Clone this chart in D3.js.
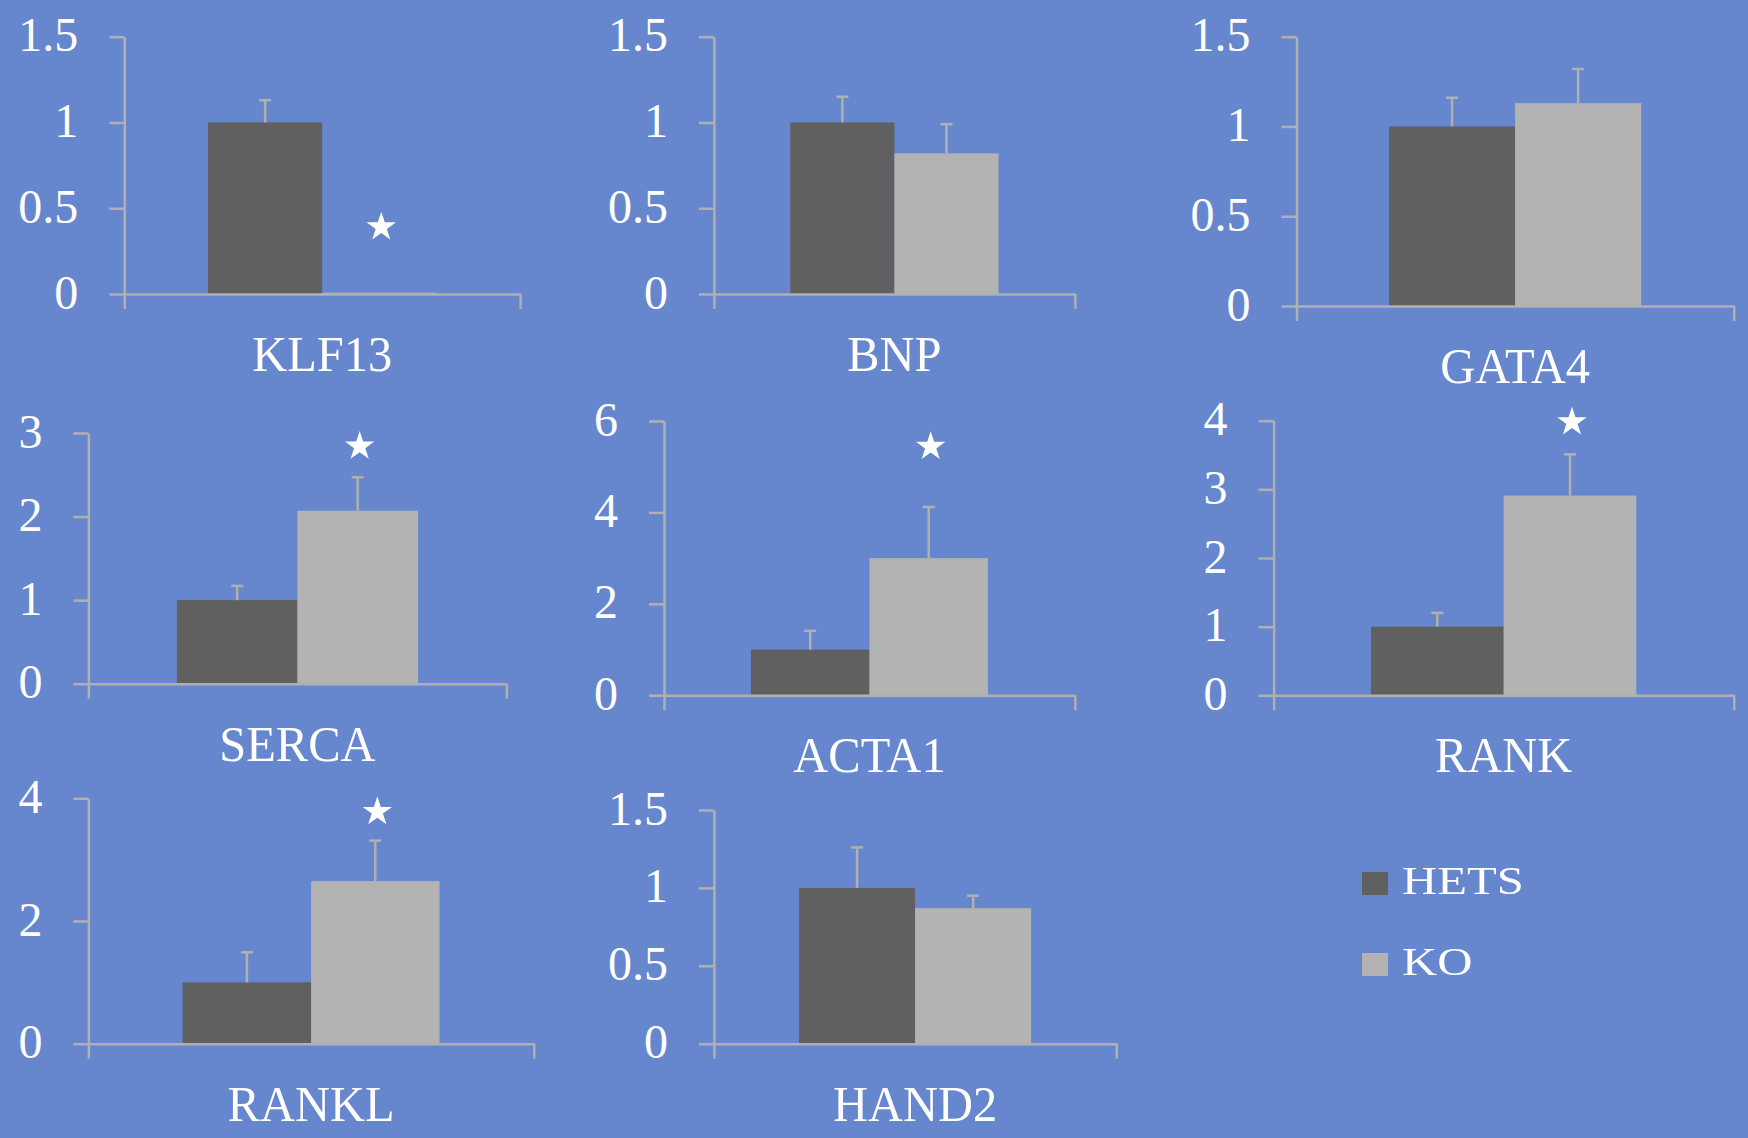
<!DOCTYPE html>
<html>
<head>
<meta charset="utf-8">
<script src="https://cdn.jsdelivr.net/npm/d3@7"></script>
<style>
  html, body { margin: 0; padding: 0; background: #6686cd; }
  svg { display: block; }
  text { font-family: "Liberation Serif", "Times New Roman", serif; fill: #ffffff; }
</style>
</head>
<body>
<svg id="chart" width="1748" height="1138"></svg>
<script>
// Relative expression, HETS vs KO, one small panel per gene
const genes = ["KLF13", "BNP", "GATA4", "SERCA", "ACTA1", "RANK", "RANKL", "HAND2"];
const groups = ["HETS", "KO"];
const hetsMean = [1, 1, 1, 1, 1, 1, 1, 1];
const koMean = [0.008, 0.82, 1.13, 2.07, 3.0, 2.91, 2.65, 0.87];
const hetsErr = [0.13, 0.15, 0.16, 0.17, 0.41, 0.20, 0.49, 0.26];
const koErr = [0, 0.17, 0.19, 0.40, 1.12, 0.60, 0.66, 0.08];
const significant = [true, false, false, true, true, true, true, false];
// height (in axis units) at which the significance star sits
const starLevel = [0.39, null, null, 2.84, 5.44, 3.98, 3.78, null];
const yTickValues = [
  [0, 0.5, 1, 1.5],
  [0, 0.5, 1, 1.5],
  [0, 0.5, 1, 1.5],
  [0, 1, 2, 3],
  [0, 2, 4, 6],
  [0, 1, 2, 3, 4],
  [0, 2, 4],
  [0, 0.5, 1, 1.5]
];

// Panel frames: plot left edge, right edge, zero baseline and top tick (px)
const frames = [
  { left: 124.3,  right: 520.1,  base: 294,    top: 36.7 },
  { left: 713.9,  right: 1074.9, base: 294,    top: 36.7 },
  { left: 1296.5, right: 1733.7, base: 306,    top: 36.7 },
  { left: 88.4,   right: 506.4,  base: 683.7,  top: 433 },
  { left: 664,    right: 1074.9, base: 695.3,  top: 421 },
  { left: 1273.6, right: 1733.7, base: 695.3,  top: 420.7 },
  { left: 88.4,   right: 533.8,  base: 1043.7, top: 798.3 },
  { left: 713.9,  right: 1116.3, base: 1043.7, top: 810 }
];

const colors = { HETS: "#606060", KO: "#b3b3b3" };
const axisColor = "#b0b0b0";
const lineWidth = 2.5;

const svg = d3.select("#chart");

genes.forEach((gene, i) => {
  const f = frames[i];
  const ticks = yTickValues[i];
  const g = svg.append("g");

  const y = d3.scaleLinear().domain([0, d3.max(ticks)]).range([f.base, f.top]);
  const xCat = d3.scaleBand().domain([gene]).range([f.left, f.right])
    .paddingInner(0).paddingOuter(0.367);
  const xGrp = d3.scaleBand().domain(groups).range([0, xCat.bandwidth()]).padding(0);

  const rows = [
    { group: "HETS", value: hetsMean[i], err: hetsErr[i] },
    { group: "KO", value: koMean[i], err: koErr[i] }
  ];
  const mid = d => xCat(gene) + xGrp(d.group) + xGrp.bandwidth() / 2;

  // bars
  g.selectAll("rect.bar").data(rows).join("rect")
    .attr("class", "bar")
    .attr("x", d => xCat(gene) + xGrp(d.group))
    .attr("width", xGrp.bandwidth())
    .attr("y", d => y(d.value))
    .attr("height", d => y(0) - y(d.value))
    .attr("fill", d => colors[d.group]);

  // upward error bars
  const eb = g.selectAll("g.err").data(rows.filter(d => d.err > 0)).join("g")
    .attr("class", "err")
    .attr("stroke", axisColor)
    .attr("stroke-width", lineWidth);
  eb.append("line")
    .attr("x1", mid).attr("x2", mid)
    .attr("y1", d => y(d.value))
    .attr("y2", d => y(d.value + d.err));
  eb.append("line")
    .attr("x1", d => mid(d) - 6)
    .attr("x2", d => mid(d) + 6)
    .attr("y1", d => y(d.value + d.err))
    .attr("y2", d => y(d.value + d.err));

  // y axis
  const yAxis = g.append("g")
    .attr("transform", `translate(${f.left},0)`)
    .call(d3.axisLeft(y).tickValues(ticks).tickFormat(d => String(d))
      .tickSize(15).tickSizeOuter(0).tickPadding(31));
  yAxis.selectAll("path, line").attr("stroke", axisColor).attr("stroke-width", lineWidth);
  yAxis.selectAll("text")
    .attr("fill", "#fff")
    .attr("font-size", 48)
    .attr("font-family", "Liberation Serif, serif")
    .attr("dy", null)
    .attr("y", 14);

  // x axis with boundary tick marks
  const xEdge = d3.scaleLinear().domain([0, 1]).range([f.left, f.right]);
  const xAxis = g.append("g")
    .attr("transform", `translate(0,${f.base})`)
    .call(d3.axisBottom(xEdge).tickValues([0, 1]).tickFormat("")
      .tickSize(15).tickSizeOuter(0));
  xAxis.selectAll("path, line").attr("stroke", axisColor).attr("stroke-width", lineWidth);

  // category label
  g.append("text")
    .attr("transform", `translate(${xCat(gene) + xCat.bandwidth() / 2},${f.base + 77}) scale(0.97,1)`)
    .attr("text-anchor", "middle")
    .attr("font-size", 50)
    .text(gene);

  // significance marker above KO
  if (significant[i]) {
    const cx = xCat(gene) + xGrp("KO") + xGrp.bandwidth() / 2;
    g.append("path")
      .attr("d", d3.symbol(d3.symbolStar, 268)())
      .attr("transform", `translate(${cx + 2},${y(starLevel[i])})`)
      .attr("fill", "#fff");
  }
});

// legend
const defs = svg.append("defs");
defs.append("filter").attr("id", "soft")
  .append("feGaussianBlur").attr("stdDeviation", 0.7);

const legend = svg.append("g").attr("filter", "url(#soft)");
const legendRows = legend.selectAll("g").data(groups).join("g")
  .attr("transform", (d, k) => `translate(1362,${872 + k * 81})`);
legendRows.append("rect")
  .attr("width", 26).attr("height", 23)
  .attr("fill", d => colors[d]);
legendRows.append("text")
  .attr("transform", `translate(40,22) scale(1.25,1)`)
  .attr("font-size", 39)
  .text(d => d);
</script>
</body>
</html>
